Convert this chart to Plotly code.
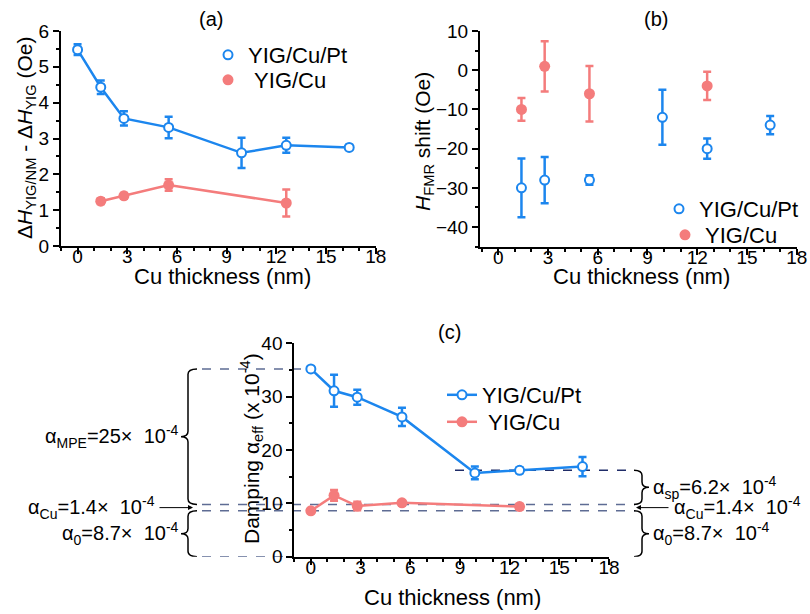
import plotly.graph_objects as go

# ---------------- data ----------------
# panel (a): linewidth difference (Oe)
a_pt_x = [0, 1.4, 2.8, 5.5, 9.9, 12.6, 16.4]
a_pt_y = [5.48, 4.43, 3.56, 3.31, 2.60, 2.81, 2.75]
a_pt_err = [0.15, 0.19, 0.20, 0.30, 0.42, 0.21, 0.07]
a_cu_x = [1.4, 2.8, 5.5, 12.6]
a_cu_y = [1.25, 1.40, 1.70, 1.20]
a_cu_err = [0.08, 0.08, 0.16, 0.38]

# panel (b): H_FMR shift (Oe)
b_pt_x = [1.4, 2.8, 5.5, 9.9, 12.6, 16.4]
b_pt_y = [-30, -28, -28, -12, -20, -14]
b_pt_err = [7.5, 5.9, 1.2, 7.0, 2.6, 2.3]
b_cu_x = [1.4, 2.8, 5.5, 12.6]
b_cu_y = [-10, 1, -6, -4]
b_cu_err = [2.9, 6.4, 7.1, 3.6]

# panel (c): damping (x 1e-4)
c_pt_x = [0, 1.4, 2.8, 5.5, 9.9, 12.6, 16.4]
c_pt_y = [35.2, 31.1, 29.9, 26.2, 15.7, 16.2, 16.9]
c_pt_err = [0.4, 3.0, 1.4, 1.7, 1.2, 0.5, 1.8]
c_cu_x = [0, 1.4, 2.8, 5.5, 12.6]
c_cu_y = [8.6, 11.5, 9.5, 10.1, 9.4]
c_cu_err = [0.3, 1.0, 0.8, 0.5, 0.5]

# reference levels in panel (c)
lvl_top = 35.2      # alpha0 + alphaCu + alphaMPE
lvl_cu = 9.8        # alpha0 + alphaCu
lvl_0 = 8.6         # alpha0
lvl_zero = 0.0
lvl_sp = 16.2       # plateau with Pt

x_ticks = [0, 3, 6, 9, 12, 15, 18]
series_names = ["YIG/Cu/Pt", "YIG/Cu"]

# ---------------- style ----------------
W, H = 810, 614
FONT = "Arial, Liberation Sans, sans-serif"
BLUE = "#1C86EE"
RED = "#F47C7C"
DASH = "#5E6C94"
DASH2 = "#1F2C68"


def px(x):
    return x / W


def py(y):
    return 1 - y / H


fig = go.Figure()


def marker(color, filled):
    return dict(symbol="circle", size=9 if not filled else 11,
                color=color if filled else "white",
                line=dict(color=color, width=2 if not filled else 0))


def add(x, y, err, color, filled, xa, ya, name, legend, line_in_legend, with_line):
    if with_line and not line_in_legend:
        # connecting line drawn separately so that the legend shows the symbol only
        fig.add_trace(go.Scatter(x=x, y=y, mode="lines", showlegend=False, xaxis=xa, yaxis=ya,
                                 line=dict(color=color, width=2.5), hoverinfo="skip"))
    mode = "lines+markers" if (with_line and line_in_legend) else "markers"
    fig.add_trace(go.Scatter(
        x=x, y=y, mode=mode, name=name, legend=legend, showlegend=True,
        xaxis=xa, yaxis=ya,
        line=dict(color=color, width=2.5),
        marker=marker(color, filled),
        error_y=dict(type="data", array=err, visible=True, color=color,
                     thickness=2.5, width=4),
    ))


NB = "\u00a0"
add(a_pt_x, a_pt_y, a_pt_err, BLUE, False, "x", "y", series_names[0], "legend", False, True)
add(a_cu_x, a_cu_y, a_cu_err, RED, True, "x", "y", NB + series_names[1], "legend2", False, True)
add(b_pt_x, b_pt_y, b_pt_err, BLUE, False, "x2", "y2", series_names[0], "legend3", False, False)
add(b_cu_x, b_cu_y, b_cu_err, RED, True, "x2", "y2", series_names[1], "legend4", False, False)
add(c_pt_x, c_pt_y, c_pt_err, BLUE, False, "x3", "y3", series_names[0], "legend5", True, True)
add(c_cu_x, c_cu_y, c_cu_err, RED, True, "x3", "y3", NB + series_names[1], "legend6", True, True)

tickfont = dict(family=FONT, size=19, color="black")


def xaxis(dom, anchor, rng=(-1, 18)):
    return dict(domain=dom, anchor=anchor, range=list(rng), tickvals=x_ticks,
                showline=True, linecolor="black", linewidth=2,
                ticks="outside", ticklen=6, tickwidth=2, tickcolor="black",
                minor=dict(dtick=1, ticks="outside", ticklen=3, tickwidth=2, tickcolor="black"),
                ticklabelstandoff=-14,
                showgrid=False, zeroline=False, tickfont=tickfont, automargin=False)


def yaxis(dom, anchor, rng, dtick, tick0=0):
    return dict(domain=dom, anchor=anchor, range=rng, dtick=dtick,
                tick0=tick0,
                showline=True, linecolor="black", linewidth=2,
                ticks="outside", ticklen=6, tickwidth=2, tickcolor="black",
                minor=dict(dtick=dtick / 2, ticks="outside", ticklen=3, tickwidth=2, tickcolor="black"),
                showgrid=False, zeroline=False, tickfont=tickfont, automargin=False)


fig.update_layout(
    width=W, height=H, autosize=False,
    margin=dict(l=0, r=0, t=0, b=0, pad=0, autoexpand=False),
    paper_bgcolor="white", plot_bgcolor="rgba(0,0,0,0)",
    font=dict(family=FONT, color="black"),
    hovermode=False,
    xaxis=xaxis([px(61), px(375.7)], "y"),
    yaxis=yaxis([py(246), py(31)], "x", [0, 6], 1),
    xaxis2=xaxis([px(480), px(796.7)], "y2", (-1.1, 18)),
    yaxis2=yaxis([py(246.7), py(31)], "x2", [-45, 10], 10, -40),
    xaxis3=xaxis([px(294.3), px(609)], "y3"),
    yaxis3=yaxis([py(556.7), py(343.3)], "x3", [0, 40], 10),
)

legfont = dict(family=FONT, size=22, color="black")


def leg(x, y):
    return dict(x=px(x), y=py(y), xanchor="left", yanchor="middle",
                bgcolor="rgba(0,0,0,0)", font=legfont, borderwidth=0)


fig.update_layout(
    legend=leg(208, 55),
    legend2=leg(208, 80),
    legend3=leg(659, 209),
    legend4=leg(665, 235),
    legend5=leg(442, 395),
    legend6=leg(442, 422),
)

ann = []


def text(x, y, s, size=22, angle=0, xa="center", ya="middle", yref="paper"):
    ann.append(dict(x=x, y=y, xref="paper", yref=yref, text=s, showarrow=False,
                    textangle=angle, xanchor=xa, yanchor=ya,
                    font=dict(family=FONT, size=size, color="black")))


# panel labels
text(px(211), py(19), "(a)", 20)
text(px(656), py(19), "(b)", 20)
text(px(449), py(332), "(c)", 20)
# axis titles
text(px(222), py(276), "Cu thickness (nm)")
text(px(641), py(276), "Cu thickness (nm)")
text(px(452), py(597), "Cu thickness (nm)")
text(px(26), py(138), "Δ<i>H</i><sub>YIG/NM</sub> - Δ<i>H</i><sub>YIG</sub> (Oe)", 21, -90)
text(px(424), py(142), "<i>H</i><sub>FMR</sub> shift (Oe)", 21, -90)
text(px(251), py(449), "Damping α<sub>eff</sub> (x 10<sup>-4</sup>)", 21, -90)

# alpha annotations in panel (c)
mid_mpe = (lvl_top + lvl_cu) / 2
mid_cu = (lvl_cu + lvl_0) / 2
mid_0 = (lvl_0 + lvl_zero) / 2
mid_sp = (lvl_sp + lvl_cu) / 2
SP = "\u00a0"
text(px(181), mid_mpe, f"α<sub>MPE</sub>=25×{SP}{SP}10<sup>-4</sup>", 20, 0, "right", "middle", "y3")
text(px(157), mid_cu, f"α<sub>Cu</sub>=1.4×{SP}{SP}10<sup>-4</sup>", 20, 0, "right", "middle", "y3")
text(px(181), mid_0, f"α<sub>0</sub>=8.7×{SP}{SP}10<sup>-4</sup>", 20, 0, "right", "middle", "y3")
text(px(651), mid_sp, f"α<sub>sp</sub>=6.2×{SP}{SP}10<sup>-4</sup>", 20, 0, "left", "middle", "y3")
text(px(672), mid_cu, f"α<sub>Cu</sub>=1.4×{SP}{SP}10<sup>-4</sup>", 20, 0, "left", "middle", "y3")
text(px(651), mid_0, f"α<sub>0</sub>=8.7×{SP}{SP}10<sup>-4</sup>", 20, 0, "left", "middle", "y3")

# arrows
ann.append(dict(x=px(193), y=mid_cu, xref="paper", yref="y3", text="", showarrow=True,
                ax=-35, ay=0, arrowhead=2, arrowsize=1, arrowwidth=1, arrowcolor="black"))
ann.append(dict(x=px(636), y=mid_cu, xref="paper", yref="y3", text="", showarrow=True,
                ax=34, ay=0, arrowhead=2, arrowsize=1, arrowwidth=1, arrowcolor="black"))
fig.update_layout(annotations=ann)

shapes = []


def hline(x0, x1, y, color=DASH):
    shapes.append(dict(type="line", xref="paper", yref="y3", x0=px(x0), x1=px(x1), y0=y, y1=y,
                       line=dict(color=color, width=1.5, dash="dash"), layer="below"))


hline(202, 306, lvl_top)
hline(202, 635, lvl_cu)
hline(202, 635, lvl_0)
hline(202, 294, lvl_zero)
hline(455, 635, lvl_sp, DASH2)


def brace(xv, tip, end, yt, yb, c=1.0):
    ym = (yt + yb) / 2
    xv, tip, end = px(xv), px(tip), px(end)
    path = (f"M{end},{yt} Q{xv},{yt} {xv},{yt - c} L{xv},{ym + c} "
            f"Q{xv},{ym} {tip},{ym} Q{xv},{ym} {xv},{ym - c} "
            f"L{xv},{yb + c} Q{xv},{yb} {end},{yb}")
    shapes.append(dict(type="path", xref="paper", yref="y3", path=path,
                       line=dict(color="black", width=1.5)))


brace(188, 181, 197, lvl_top, lvl_cu)
brace(188, 181, 197, lvl_0, lvl_zero)
brace(642, 649, 634, lvl_sp, lvl_cu)
brace(642, 649, 634, lvl_0, lvl_zero)
fig.update_layout(shapes=shapes)

fig.write_html("out.html", config={"displayModeBar": False},
               post_script="document.body.style.margin='0';")
